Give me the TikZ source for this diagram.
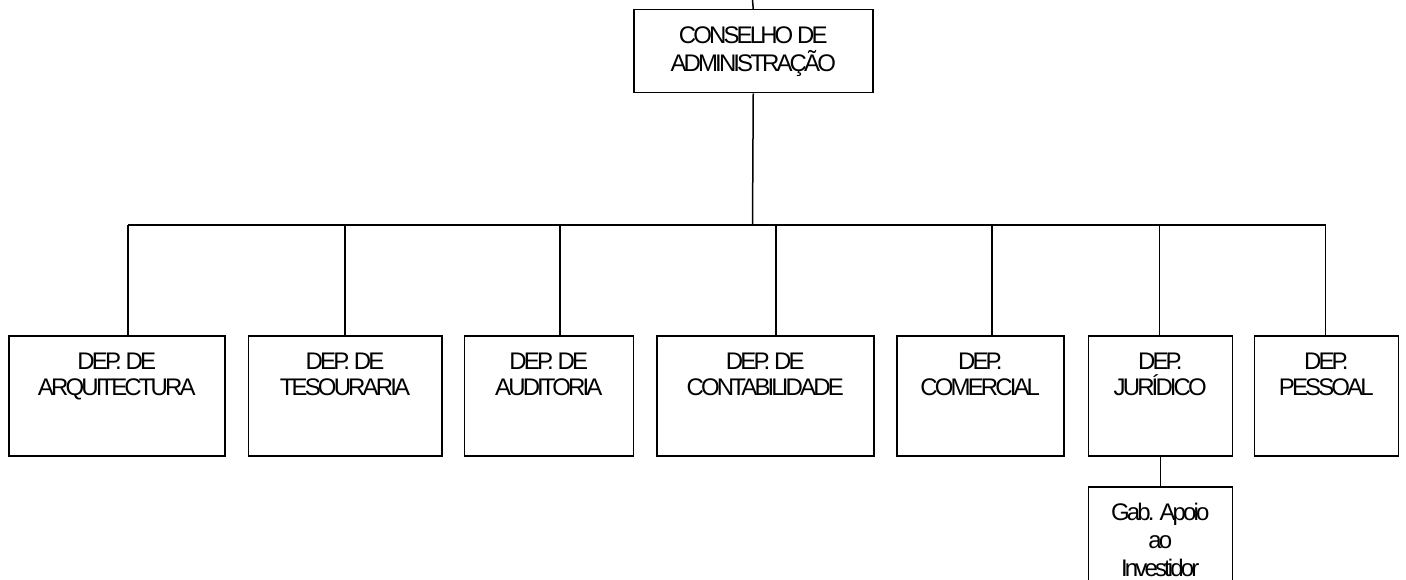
\documentclass[tikz,border=0pt]{standalone}
\usepackage{fontspec}
\newfontfamily\orgfont[LetterSpace=-12]{Liberation Sans}
\newcommand{\orgbox}[4][27]{\parbox[c][#3pt][t]{#2pt}{\centering\orgfont\fontsize{24}{#1}\selectfont\rule{0pt}{34pt}#4\par}}
\begin{document}
\begin{tikzpicture}[x=1pt,y=-1pt,
  box/.style={draw,line width=1.5pt,inner sep=0pt,anchor=north west,rectangle},
  conn/.style={line width=1.5pt}]
\useasboundingbox (0,0) rectangle (1406,580);
\clip (0,0) rectangle (1406,580);
\node[box] (cons) at (633,9) {\orgbox[27.5]{239}{83}{CONSELHO DE\\ADMINISTRAÇÃO}};
\node[box] (arq) at (8,335) {\orgbox[26]{216}{120}{DEP. DE\\ARQUITECTURA}};
\node[box] (tes) at (247.5,335) {\orgbox[26]{193.5}{120}{DEP. DE\\TESOURARIA}};
\node[box] (aud) at (463.5,335) {\orgbox[26]{169}{120}{DEP. DE\\AUDITORIA}};
\node[box] (con) at (656,335) {\orgbox[26]{217}{120}{DEP. DE\\CONTABILIDADE}};
\node[box] (com) at (896,335) {\orgbox[26]{167}{120}{DEP.\\COMERCIAL}};
\node[box] (jur) at (1087.5,335) {\orgbox[26]{144}{120}{DEP.\\JURÍDICO}};
\node[box] (pes) at (1253.5,335) {\orgbox[26]{144}{120}{DEP.\\PESSOAL}};
\node[box] (gab) at (1087.5,486) {\orgbox[28]{144}{120}{Gab. Apoio\\ao\\Investidor}};
\coordinate (top) at (752.5,0);
\coordinate (bar) at (752.5,225);
\coordinate (d1) at (128,225);
\coordinate (d2) at (345,225);
\coordinate (d3) at (560,225);
\coordinate (d4) at (776,225);
\coordinate (d5) at (992,225);
\coordinate (d6) at (1159.5,225);
\coordinate (d7) at (1325.5,225);
\draw[conn] (cons.north) -- (top);
\draw[conn] (cons.south) -- (bar);
\draw[conn] (d1) -- (d7);
\draw[conn] (d1) -- (d1 |- arq.north);
\draw[conn] (d2) -- (d2 |- tes.north);
\draw[conn] (d3) -- (d3 |- aud.north);
\draw[conn] (d4) -- (d4 |- con.north);
\draw[conn] (d5) -- (d5 |- com.north);
\draw[conn] (d6) -- (d6 |- jur.north);
\draw[conn] (d7) -- (d7 |- pes.north);
\draw[conn] (jur.south) -- (gab.north);
\end{tikzpicture}
\end{document}
